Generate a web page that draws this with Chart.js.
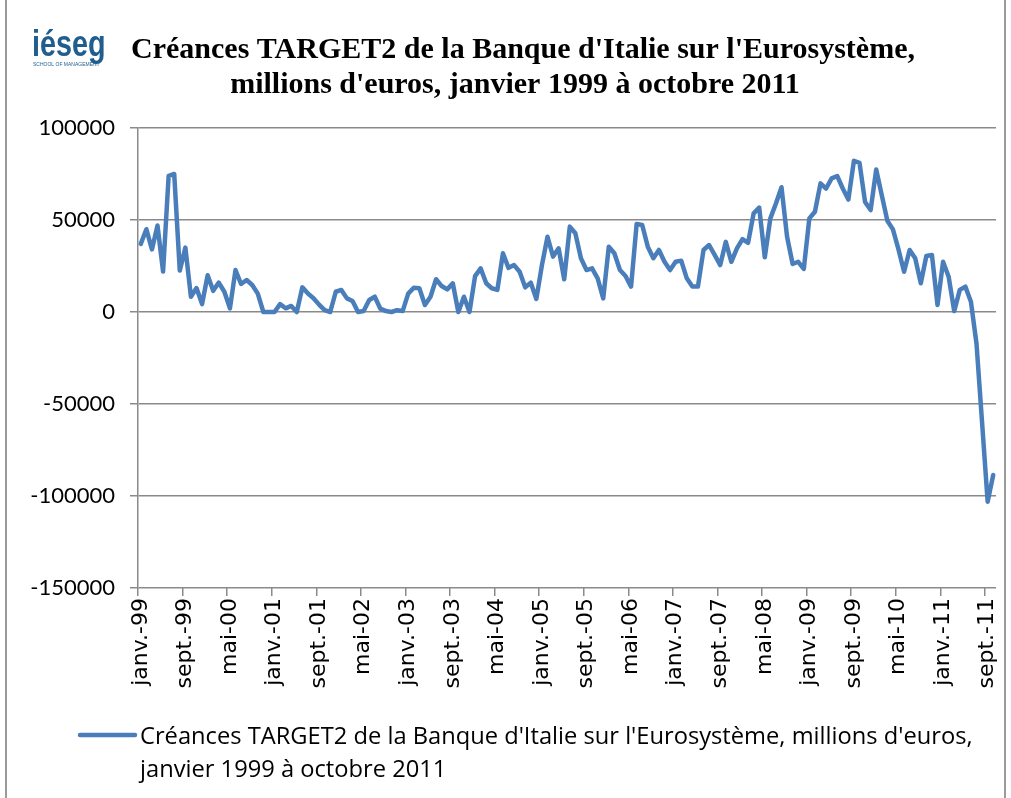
<!DOCTYPE html>
<html>
<head>
<meta charset="utf-8">
<script src="https://cdn.jsdelivr.net/npm/chart.js@4.4.1/dist/chart.umd.min.js"></script>
<style>
  html, body { margin: 0; padding: 0; background: #fff; }
  #wrap { width: 1011px; height: 798px; }
</style>
</head>
<body>
<div id="wrap"><canvas id="target2Chart" width="1011" height="798"></canvas></div>
<script>
// mois abrégés et années pour les libellés de l'axe
const monthNames = ['janv.', 'févr.', 'mars', 'avr.', 'mai', 'juin', 'juil.', 'août', 'sept.', 'oct.', 'nov.', 'déc.'];
const yearLabels = ['99', '00', '01', '02', '03', '04', '05', '06', '07', '08', '09', '10', '11'];
const yTicks = [100000, 50000, 0, -50000, -100000, -150000];

// créances TARGET2, millions d'euros (janv. 1999 -> oct. 2011)
const claims1999 = [37000, 45000, 34000, 47000, 22000, 74000, 75000, 22500, 35000, 8300, 13000, 4300];
const claims2000 = [20000, 11500, 16000, 11000, 2000, 22800, 15200, 17400, 14700, 10000, 0, 0];
const claims2001 = [0, 4300, 2000, 3300, 0, 13400, 10000, 7500, 4000, 1000, 0, 11000];
const claims2002 = [12000, 7400, 6000, 0, 500, 6500, 8300, 1800, 500, 0, 1000, 500];
const claims2003 = [10000, 13200, 12900, 3800, 8300, 17800, 14100, 12300, 15600, 0, 8300, 0];
const claims2004 = [19500, 23700, 15600, 12900, 12000, 31900, 24000, 25500, 21900, 13400, 15900, 7100];
const claims2005 = [25500, 40900, 30100, 34600, 17800, 46400, 42800, 29200, 22800, 23700, 18300, 7400];
const claims2006 = [35500, 31900, 22800, 19600, 13800, 47800, 47300, 35500, 29200, 33700, 27300, 22800];
const claims2007 = [27300, 27900, 18300, 13800, 13800, 33700, 36400, 31000, 25500, 38100, 27300, 34600];
const claims2008 = [39600, 37600, 53600, 56700, 29700, 50900, 59000, 67800, 40900, 26100, 27300, 23400];
const claims2009 = [50900, 54500, 69900, 67100, 72600, 73900, 67100, 61100, 82200, 81100, 59800, 55400];
const claims2010 = [77400, 63500, 49600, 44900, 34000, 21900, 33700, 29200, 15600, 30400, 31000, 3800];
const claims2011 = [27300, 19200, 500, 12000, 13800, 5600, -17200, -60000, -103100, -88600];

const values = [].concat(claims1999, claims2000, claims2001, claims2002, claims2003, claims2004,
  claims2005, claims2006, claims2007, claims2008, claims2009, claims2010, claims2011);
const labels = values.map((v, i) => monthNames[i % 12] + '-' + yearLabels[Math.floor(i / 12)]);

const titleLines = ["Créances TARGET2 de la Banque d'Italie sur l'Eurosystème,", "millions d'euros, janvier 1999 à octobre 2011"];
const legendLines = ["Créances TARGET2 de la Banque d'Italie sur l'Eurosystème, millions d'euros,", "janvier 1999 à octobre 2011"];

const lineColor = '#4a7ebb';
const gridColor = '#8a8a8a';

const decorPlugin = {
  id: 'decor',
  beforeDraw(chart) {
    const ctx = chart.ctx;
    ctx.save();
    ctx.fillStyle = '#fff';
    ctx.fillRect(0, 0, chart.width, chart.height);
    ctx.restore();
  },
  afterDraw(chart) {
    const ctx = chart.ctx;
    ctx.save();

    // cadre
    ctx.strokeStyle = '#9a9a9a';
    ctx.lineWidth = 2;
    ctx.beginPath();
    ctx.moveTo(6, 0); ctx.lineTo(6, chart.height);
    ctx.moveTo(1005, 0); ctx.lineTo(1005, chart.height);
    ctx.stroke();

    // logo
    ctx.fillStyle = '#1f5e8e';
    ctx.textBaseline = 'alphabetic';
    ctx.textAlign = 'left';
    ctx.save();
    ctx.translate(32, 56);
    ctx.scale(0.8, 1);
    ctx.font = 'bold 36px "Liberation Sans"';
    ctx.fillText('iéseg', 0, 0);
    ctx.restore();
    ctx.font = '5px "Liberation Sans"';
    ctx.fillText('SCHOOL OF MANAGEMENT', 33, 66);

    // titre
    ctx.fillStyle = '#000';
    ctx.textAlign = 'center';
    ctx.font = 'bold 30px "Liberation Serif"';
    ctx.fillText(titleLines[0], 523, 58);
    ctx.fillText(titleLines[1], 515, 93);

    // légende
    ctx.strokeStyle = lineColor;
    ctx.lineWidth = 4.5;
    ctx.lineCap = 'round';
    ctx.beginPath();
    ctx.moveTo(80, 735); ctx.lineTo(135, 735);
    ctx.stroke();
    ctx.textAlign = 'left';
    ctx.font = '23.7px "Open Sans"';
    ctx.fillStyle = '#000';
    ctx.fillText(legendLines[0], 140, 744);
    ctx.fillText(legendLines[1], 140, 777);

    ctx.restore();
  }
};

new Chart(document.getElementById('target2Chart'), {
  type: 'line',
  data: {
    labels: labels,
    datasets: [{
      label: legendLines.join(' '),
      data: values,
      borderColor: lineColor,
      borderWidth: 4.5,
      borderJoinStyle: 'round',
      borderCapStyle: 'round',
      pointRadius: 0,
      tension: 0,
      fill: false
    }]
  },
  options: {
    responsive: false,
    animation: false,
    devicePixelRatio: 1,
    layout: { padding: { top: 128, left: 0, right: 15, bottom: 0 } },
    plugins: {
      legend: { display: false },
      title: { display: false },
      tooltip: { enabled: false }
    },
    scales: {
      x: {
        type: 'category',
        offset: true,
        afterFit: scale => {
          scale.height = 210;
          scale.paddingLeft = 0;
          scale.paddingRight = 0;
        },
        grid: {
          display: true,
          offset: true,
          drawOnChartArea: false,
          drawTicks: true,
          tickLength: 8,
          lineWidth: 1.5,
          color: ctx => (ctx.index % 8 === 0 ? gridColor : 'rgba(0,0,0,0)')
        },
        border: { display: false },
        ticks: {
          autoSkip: false,
          maxRotation: 90,
          minRotation: 90,
          padding: 2,
          color: '#000',
          font: { family: 'DejaVu Sans', size: 22 },
          callback: (v, i) => (i % 8 === 0 ? labels[i] : '')
        }
      },
      y: {
        min: yTicks[yTicks.length - 1],
        max: yTicks[0],
        afterFit: scale => { scale.width = 138; },
        afterBuildTicks: scale => { scale.ticks = yTicks.map(v => ({ value: v })); },
        grid: { color: gridColor, lineWidth: 1.5, tickLength: 8 },
        border: { display: true, color: gridColor, width: 1.5 },
        ticks: {
          padding: 15,
          color: '#000',
          font: { family: 'Lato', size: 22 },
          callback: v => String(v)
        }
      }
    }
  },
  plugins: [decorPlugin]
});
</script>
</body>
</html>
